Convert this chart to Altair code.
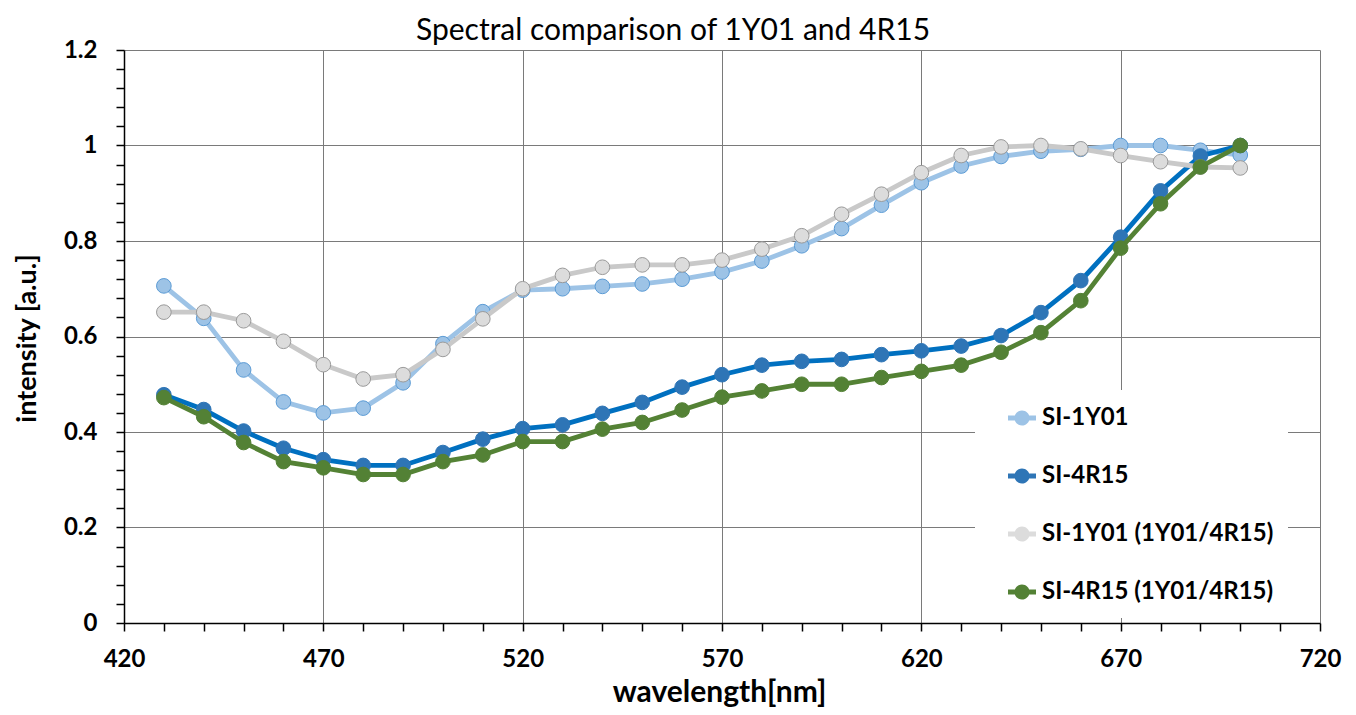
import altair as alt
import pandas as pd

wavelength = [430, 440, 450, 460, 470, 480, 490, 500, 510, 520, 530, 540, 550, 560,
              570, 580, 590, 600, 610, 620, 630, 640, 650, 660, 670, 680, 690, 700]

si_1y01 = [0.706, 0.638, 0.530, 0.463, 0.440, 0.450, 0.503, 0.585, 0.652, 0.697,
           0.700, 0.705, 0.710, 0.720, 0.735, 0.758, 0.790, 0.826, 0.875, 0.922,
           0.957, 0.977, 0.988, 0.992, 1.000, 1.000, 0.990, 0.980]
si_4r15 = [0.478, 0.447, 0.402, 0.366, 0.342, 0.330, 0.330, 0.357, 0.385, 0.407,
           0.415, 0.439, 0.462, 0.494, 0.520, 0.540, 0.548, 0.552, 0.562, 0.570,
           0.580, 0.602, 0.650, 0.717, 0.808, 0.905, 0.978, 1.000]
si_1y01_mix = [0.651, 0.651, 0.633, 0.590, 0.541, 0.511, 0.520, 0.573, 0.637, 0.700,
               0.728, 0.745, 0.750, 0.750, 0.760, 0.783, 0.811, 0.856, 0.898, 0.943,
               0.979, 0.997, 1.000, 0.993, 0.979, 0.966, 0.955, 0.953]
si_4r15_mix = [0.472, 0.432, 0.378, 0.338, 0.325, 0.311, 0.311, 0.338, 0.352, 0.380,
               0.380, 0.406, 0.420, 0.446, 0.473, 0.486, 0.500, 0.500, 0.514, 0.527,
               0.540, 0.567, 0.608, 0.675, 0.785, 0.878, 0.955, 1.000]

series_names = ["SI-1Y01", "SI-4R15", "SI-1Y01 (1Y01/4R15)", "SI-4R15 (1Y01/4R15)"]
series_values = [si_1y01, si_4r15, si_1y01_mix, si_4r15_mix]
line_colors = ["#9DC3E6", "#0070C0", "#C9C9C9", "#548235"]
marker_fills = ["#9DC3E6", "#2E75B6", "#DCDCDC", "#538135"]
marker_strokes = ["#5B9BD5", "#2E75B6", "#9A9A9A", "#538135"]

x_ticks = list(range(420, 721, 10))
y_ticks = [round(0.04 * i, 2) for i in range(31)]

rows = []
for name, vals in zip(series_names, series_values):
    for w, v in zip(wavelength, vals):
        rows.append({"series": name, "wl": w, "val": v})
df = pd.DataFrame(rows)

FONT = "Lato"

x_major = "(datum.value - 420) % 50 == 0"
x_enc = alt.X(
    "wl:Q",
    scale=alt.Scale(domain=[420, 720], nice=False, zero=False),
    axis=alt.Axis(
        values=x_ticks,
        labelExpr=f"{x_major} ? datum.label : ''",
        gridOpacity={"condition": {"test": x_major, "value": 1}, "value": 0},
        title="wavelength[nm]",
        titleX=595,
        titleY=78,
        titleFontSize=30,
        titleBaseline="alphabetic",
        labelPadding=16,
        labelFlush=False,
        labelOverlap=False,
    ),
)
y_major = "round(datum.value * 100) % 20 == 0"
y_enc = alt.Y(
    "val:Q",
    scale=alt.Scale(domain=[0, 1.2], nice=False),
    axis=alt.Axis(
        values=y_ticks,
        labelExpr=f"({y_major}) ? format(datum.value, '~g') : ''",
        gridOpacity={"condition": {"test": y_major, "value": 1}, "value": 0},
        title="intensity [a.u.]",
        titleX=-97,
        titleY=288,
        titleFontSize=27,
        titleBaseline="middle",
        labelPadding=19,
        labelOverlap=False,
    ),
)

legend_symbol = ("M-1,-0.17L1,-0.17L1,0.17L-1,0.17Z "
                 "M-0.54,0A0.54,0.54,0,1,1,0.54,0A0.54,0.54,0,1,1,-0.54,0Z")

fill_enc = alt.Fill(
    "series:N",
    scale=alt.Scale(domain=series_names, range=marker_fills),
    legend=alt.Legend(
        title=None,
        orient="none",
        legendX=851,
        legendY=340,
        fillColor="white",
        padding=14,
        symbolOffset=19,
        symbolType=legend_symbol,
        symbolSize=784,
        symbolStrokeWidth=0,
        labelFont=FONT,
        labelFontSize=24,
        labelFontWeight="bold",
        labelColor="black",
        labelOffset=6,
        labelLimit=400,
        rowPadding=32,
    ),
)

layers = []
for name, lc, ms in zip(series_names, line_colors, marker_strokes):
    base = alt.Chart(df).transform_filter(alt.datum.series == name)
    layers.append(base.mark_line(color=lc, strokeWidth=4.8).encode(x=x_enc, y=y_enc))
    layers.append(
        base.mark_point(filled=True, size=215, stroke=ms, strokeWidth=1, opacity=1)
        .encode(x=x_enc, y=y_enc, fill=fill_enc)
    )

chart = (
    alt.layer(*layers)
    .properties(
        width=1196,
        height=573,
        autosize=alt.AutoSizeParams(type="none"),
        padding={"left": 116, "top": 42, "right": 28, "bottom": 84},
        title=alt.TitleParams(
            "Spectral comparison of 1Y01 and 4R15",
            font=FONT,
            fontSize=30,
            fontWeight="normal",
            color="black",
            anchor="middle",
            dx=-49,
            dy=20,
            offset=12,
        ),
    )
    .configure_view(strokeOpacity=0)
    .configure_axis(
        domainColor="black",
        domainWidth=1.5,
        tickColor="black",
        tickWidth=1.5,
        tickSize=8,
        gridColor="#7A7A7A",
        gridWidth=1,
        labelFont=FONT,
        labelFontSize=24,
        labelFontWeight="bold",
        labelColor="black",
        titleFont=FONT,
        titleFontWeight="bold",
        titleColor="black",
    )
)

chart.save("out.html", embed_options={"renderer": "svg", "actions": False})
